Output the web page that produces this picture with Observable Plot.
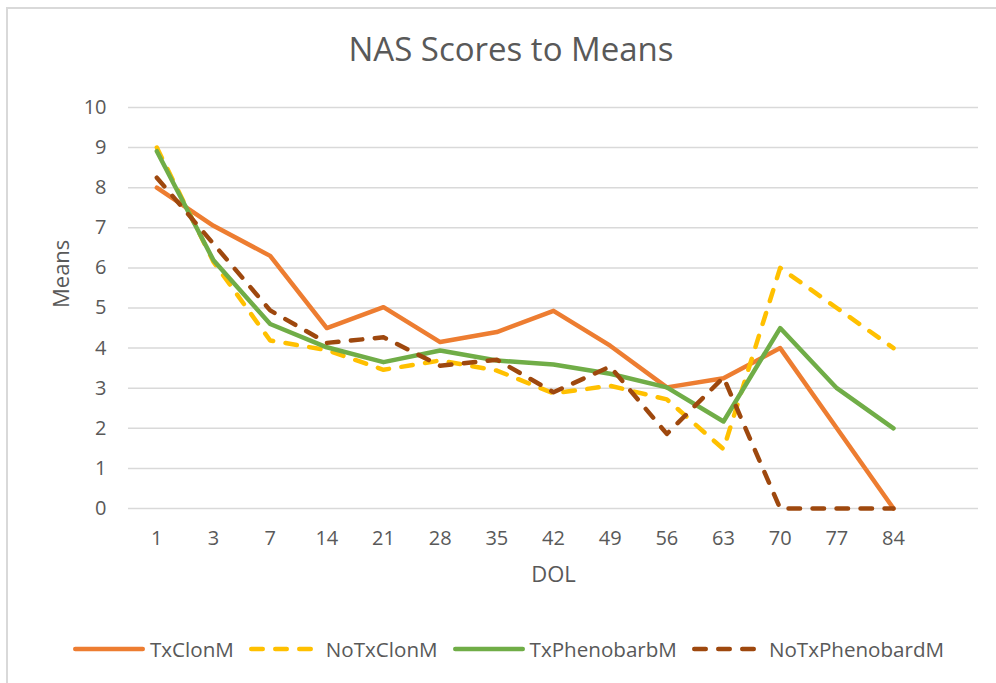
<!DOCTYPE html>
<html>
<head>
<meta charset="utf-8">
<script src="https://cdn.jsdelivr.net/npm/d3@7"></script>
<script src="https://cdn.jsdelivr.net/npm/@observablehq/plot@0.6"></script>
<style>
  html, body { margin: 0; padding: 0; background: #fff; }
  #wrap { position: relative; width: 996px; height: 683px; overflow: hidden; font-family: "Open Sans", sans-serif; color: #595959; }
  #border { position: absolute; left: 6px; top: 7px; width: 1100px; height: 1000px; border: 2px solid #d9d9d9; box-sizing: border-box; }
  #title { position: absolute; left: 13px; top: 32px; width: 996px; text-align: center; font-size: 33px; line-height: 33px; white-space: nowrap; }
  #chart { position: absolute; left: 0; top: 0; }
  #legend { position: absolute; left: 73px; top: 637px; height: 24px; display: flex; align-items: center; font-size: 20.6px; white-space: nowrap; }
  .item { display: flex; align-items: center; margin-right: 15px; }
  .item svg { width: 77px; height: 20px; flex: none; }
</style>
</head>
<body>
<div id="wrap">
  <div id="border"></div>
  <div id="chart"></div>
  <div id="title">NAS Scores to Means</div>
  <div id="legend"></div>
</div>
<script>
const title = "NAS Scores to Means";
const xLabel = "DOL";
const yLabel = "Means";
const categories = ["1","3","7","14","21","28","35","42","49","56","63","70","77","84"];
const yTicks = [0,1,2,3,4,5,6,7,8,9,10];
const seriesNames = ["TxClonM", "NoTxClonM", "TxPhenobarbM", "NoTxPhenobardM"];
const txClonM        = [8.0, 7.05, 6.3, 4.5, 5.02, 4.15, 4.4, 4.93, 4.06, 3.02, 3.25, 4.0, 2.0, 0];
const noTxClonM      = [9.0, 6.15, 4.19, 3.95, 3.46, 3.69, 3.44, 2.87, 3.06, 2.72, 1.48, 6.0, 5.0, 4.0];
const txPhenobarbM   = [8.91, 6.19, 4.6, 4.02, 3.65, 3.94, 3.69, 3.59, 3.36, 3.02, 2.17, 4.5, 3.0, 2.0];
const noTxPhenobardM = [8.25, 6.6, 4.94, 4.13, 4.27, 3.56, 3.71, 2.9, 3.54, 1.86, 3.27, 0, 0, 0];
const seriesValues = [txClonM, noTxClonM, txPhenobarbM, noTxPhenobardM];
const colors = ["#ED7D31", "#FFC000", "#70AD47", "#9E480E"];
const dashes = [null, "11.5,12.5", null, "11.5,12.5"];

document.getElementById("title").textContent = title;

const lineMarks = seriesNames.map((name, i) => {
  const data = categories.map((c, j) => ({x: c, y: seriesValues[i][j], series: name}));
  return Plot.line(data, {
    x: "x", y: "y",
    stroke: colors[i],
    strokeWidth: 4.5,
    strokeDasharray: dashes[i] || undefined,
    strokeLinecap: "round",
    strokeLinejoin: "round"
  });
});

const chart = Plot.plot({
  width: 996,
  height: 600,
  marginLeft: 128,
  marginRight: 18,
  marginTop: 107,
  marginBottom: 92,
  style: {fontFamily: "Open Sans, sans-serif", fontSize: "20px", color: "#595959", background: "transparent", overflow: "visible"},
  x: {type: "point", domain: [...categories, ""], padding: 0.5, align: 0.5, round: false, ticks: categories, tickSize: 0, tickPadding: 22, label: null},
  y: {domain: [0, 10], ticks: yTicks, tickSize: 0, tickPadding: 22, label: null},
  marks: [
    Plot.ruleY(yTicks, {stroke: "#d9d9d9", strokeWidth: 1.5}),
    ...lineMarks,
    Plot.text([yLabel], {text: d => d, frameAnchor: "left", dx: -67, rotate: -90, fontSize: 22, fill: "#595959"}),
    Plot.text([xLabel], {text: d => d, frameAnchor: "bottom", dy: 73, fontSize: 22, fill: "#595959"})
  ]
});
document.getElementById("chart").appendChild(chart);

const legend = document.getElementById("legend");
seriesNames.forEach((name, i) => {
  const item = document.createElement("div");
  item.className = "item";
  const dashed = !!dashes[i];
  const x2 = dashed ? 61.75 : 69.75;
  item.innerHTML = `<svg viewBox="0 0 77 20"><line x1="2.25" x2="${x2}" y1="10" y2="10" stroke="${colors[i]}" stroke-width="4.5" stroke-linecap="round"${dashed ? ` stroke-dasharray="${dashes[i]}"` : ""}/></svg><span></span>`;
  item.querySelector("span").textContent = name;
  legend.appendChild(item);
});
</script>
</body>
</html>
